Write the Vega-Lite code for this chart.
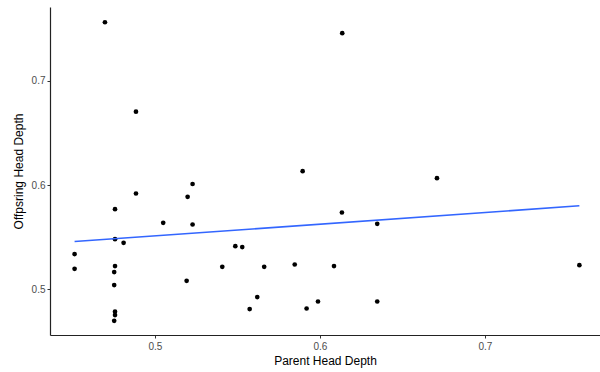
{
  "$schema": "https://vega.github.io/schema/vega-lite/v6.json",
  "width": 550,
  "height": 328,
  "autosize": {"type": "none"},
  "padding": {"left": 50, "top": 7, "right": 0, "bottom": 37},
  "background": "white",
  "config": {
    "view": {"stroke": null},
    "font": "Liberation Sans",
    "axis": {
      "grid": false,
      "domainColor": "#222222",
      "domainWidth": 1.2,
      "tickColor": "#333333",
      "tickSize": 3,
      "labelColor": "#4d4d4d",
      "labelFontSize": 10,
      "labelFont": "Liberation Sans",
      "titleFont": "Liberation Sans",
      "titleFontSize": 12,
      "titleFontWeight": "normal",
      "titleColor": "#000000"
    }
  },
  "datasets": {
    "heads": [
      {"parent": 0.4697, "offspring": 0.7559},
      {"parent": 0.4885, "offspring": 0.6703},
      {"parent": 0.5228, "offspring": 0.6010},
      {"parent": 0.6135, "offspring": 0.7454},
      {"parent": 0.5895, "offspring": 0.6133},
      {"parent": 0.6709, "offspring": 0.6066},
      {"parent": 0.4885, "offspring": 0.5919},
      {"parent": 0.5198, "offspring": 0.5887},
      {"parent": 0.4758, "offspring": 0.5769},
      {"parent": 0.5050, "offspring": 0.5638},
      {"parent": 0.5228, "offspring": 0.5622},
      {"parent": 0.4758, "offspring": 0.5482},
      {"parent": 0.4810, "offspring": 0.5447},
      {"parent": 0.4513, "offspring": 0.5339},
      {"parent": 0.4513, "offspring": 0.5198},
      {"parent": 0.5487, "offspring": 0.5415},
      {"parent": 0.5529, "offspring": 0.5406},
      {"parent": 0.4758, "offspring": 0.5224},
      {"parent": 0.4753, "offspring": 0.5167},
      {"parent": 0.4753, "offspring": 0.5042},
      {"parent": 0.4758, "offspring": 0.4787},
      {"parent": 0.4758, "offspring": 0.4755},
      {"parent": 0.4753, "offspring": 0.4700},
      {"parent": 0.5408, "offspring": 0.5217},
      {"parent": 0.5662, "offspring": 0.5217},
      {"parent": 0.5847, "offspring": 0.5239},
      {"parent": 0.5192, "offspring": 0.5083},
      {"parent": 0.5620, "offspring": 0.4927},
      {"parent": 0.5574, "offspring": 0.4812},
      {"parent": 0.6133, "offspring": 0.5737},
      {"parent": 0.6347, "offspring": 0.5629},
      {"parent": 0.6085, "offspring": 0.5224},
      {"parent": 0.7572, "offspring": 0.5233},
      {"parent": 0.5919, "offspring": 0.4818},
      {"parent": 0.5988, "offspring": 0.4885},
      {"parent": 0.6347, "offspring": 0.4885}
    ],
    "fit": [
      {"parent": 0.4513, "offspring": 0.5459},
      {"parent": 0.7572, "offspring": 0.5801}
    ]
  },
  "encoding": {
    "x": {
      "field": "parent",
      "type": "quantitative",
      "title": "Parent Head Depth",
      "scale": {"domain": [0.4364, 0.7697], "nice": false, "zero": false},
      "axis": {"values": [0.5, 0.6, 0.7], "format": ".1f", "labelPadding": 3, "titlePadding": 4}
    },
    "y": {
      "field": "offspring",
      "type": "quantitative",
      "title": "Offpsring Head Depth",
      "scale": {"domain": [0.4564, 0.7705], "nice": false, "zero": false},
      "axis": {"values": [0.5, 0.6, 0.7], "format": ".1f", "labelPadding": 2, "titlePadding": 6}
    }
  },
  "layer": [
    {
      "data": {"name": "heads"},
      "mark": {"type": "circle", "size": 22, "color": "#000000", "opacity": 1}
    },
    {
      "data": {"name": "fit"},
      "mark": {"type": "line", "color": "#3366FF", "strokeWidth": 1.6}
    }
  ]
}
